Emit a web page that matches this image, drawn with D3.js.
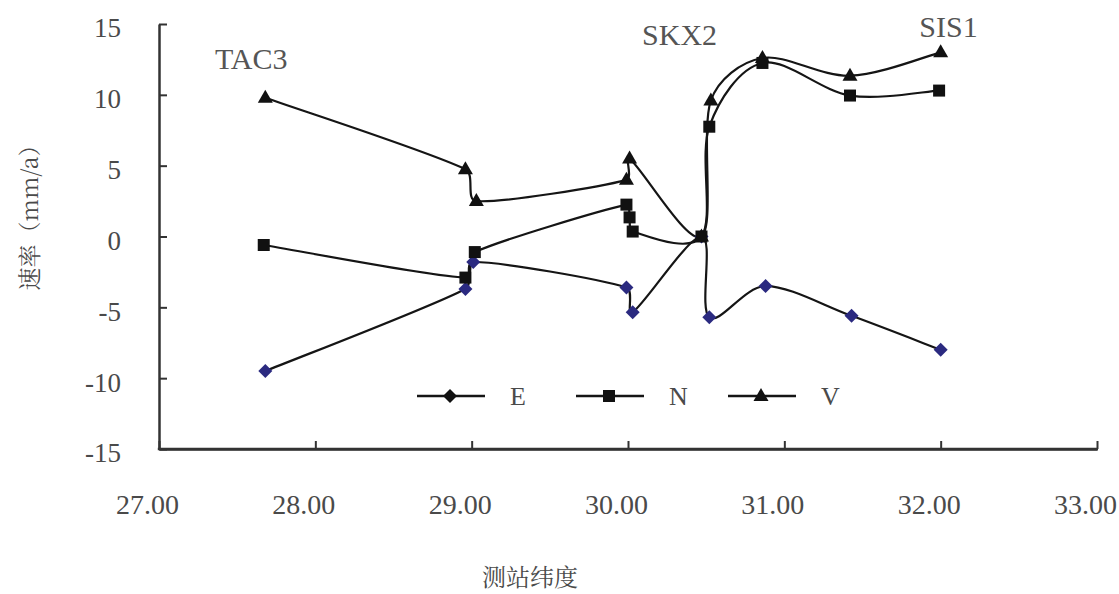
<!DOCTYPE html>
<html><head><meta charset="utf-8">
<script src="https://cdn.jsdelivr.net/npm/d3@7"></script>
<style>body{margin:0;background:#fff}</style>
</head><body>
<svg id="chart" width="1119" height="594"></svg>
<script>
// ---- data (latitude in degrees, rate in mm/a) ----
const latE = [27.68, 28.96, 29.01, 29.99, 30.03, 30.47, 30.52, 30.88, 31.43, 32.00];
const valE = [-9.5, -3.7, -1.8, -3.6, -5.35, 0.0, -5.7, -3.5, -5.6, -8.0];
const latN = [27.67, 28.96, 29.02, 29.99, 30.01, 30.03, 30.47, 30.52, 30.86, 31.42, 31.99];
const valN = [-0.6, -2.9, -1.1, 2.25, 1.35, 0.35, 0.0, 7.75, 12.25, 9.95, 10.3];
const latV = [27.68, 28.96, 29.03, 29.99, 30.01, 30.47, 30.53, 30.86, 31.42, 32.00];
const valV = [9.8, 4.75, 2.5, 4.0, 5.5, 0.0, 9.6, 12.6, 11.35, 13.0];
const xTicks = [27, 28, 29, 30, 31, 32, 33];
const yTicks = [-15, -10, -5, 0, 5, 10, 15];
const stationNames = ["TAC3", "SKX2", "SIS1"];
const stationLat = [27.59, 30.33, 32.05];
const stationVal = [11.8, 13.55, 14.05];
const seriesNames = ["E", "N", "V"];
const xTitle = "测站纬度";
const yTitle = "速率（mm/a）";

const svg = d3.select("#chart");
const x = d3.scaleLinear().domain([27, 33]).range([159, 1097]);
const y = d3.scaleLinear().domain([-15, 15]).range([449, 24]);
const txt = "#4a4a4a";
const SERIF = "Liberation Serif";
const CJK = "Noto Serif CJK SC";

// axes
const gx = svg.append("g").attr("transform", "translate(0,449)")
  .call(d3.axisBottom(x).tickValues(xTicks).tickFormat(d => d.toFixed(2))
    .tickSizeInner(-8).tickSizeOuter(0).tickPadding(45));
const gy = svg.append("g").attr("transform", "translate(159,0)")
  .call(d3.axisLeft(y).tickValues(yTicks).tickFormat(d => String(d)).tickSizeInner(-8).tickSizeOuter(0).tickPadding(38));
[gx, gy].forEach(g => {
  g.attr("font-family", SERIF).attr("font-size", 27);
  g.select(".domain").attr("stroke", "#333").attr("stroke-width", 2.5);
  g.selectAll(".tick line").attr("stroke", "#333").attr("stroke-width", 2);
  g.selectAll(".tick text").attr("fill", txt);
});
gx.attr("font-size", 28);
gx.selectAll(".tick text").attr("dx", -12);
gy.selectAll(".tick text").attr("dy", "0.48em");
svg.append("line").attr("x1", 157.8).attr("x2", 1098).attr("y1", 449).attr("y2", 449)
  .attr("stroke", "#333").attr("stroke-width", 2.5);

// axis titles
svg.append("text").attr("x", 530).attr("y", 586).attr("text-anchor", "middle")
  .attr("fill", txt).attr("font-family", CJK).attr("font-size", 24).text(xTitle);
svg.append("text").attr("transform", "translate(38,212) rotate(-90)").attr("text-anchor", "middle")
  .attr("fill", txt).attr("font-family", CJK).attr("font-size", 23).text(yTitle);

// smooth curve (segment-limited bezier, similar to spreadsheet smoothing)
function SmoothCurve(context) { this._context = context; }
SmoothCurve.prototype = {
  areaStart() {}, areaEnd() {},
  lineStart() { this._pts = []; },
  point(px, py) { this._pts.push([+px, +py]); },
  lineEnd() {
    const p = this._pts, n = p.length, c = this._context;
    if (!n) return;
    c.moveTo(p[0][0], p[0][1]);
    const tan = p.map((pt, i) => {
      const a = p[Math.max(0, i - 1)], b = p[Math.min(n - 1, i + 1)];
      const dx = b[0] - a[0], dy = b[1] - a[1], L = Math.hypot(dx, dy) || 1;
      return [dx / L, dy / L, L];
    });
    for (let i = 0; i < n - 1; i++) {
      const a = p[i], b = p[i + 1];
      const seg = Math.hypot(b[0] - a[0], b[1] - a[1]);
      const la = Math.min(tan[i][2] / 6, seg / 3), lb = Math.min(tan[i + 1][2] / 6, seg / 3);
      c.bezierCurveTo(a[0] + tan[i][0] * la, a[1] + tan[i][1] * la,
                      b[0] - tan[i + 1][0] * lb, b[1] - tan[i + 1][1] * lb, b[0], b[1]);
    }
  }
};
const smooth = ctx => new SmoothCurve(ctx);

const series = [
  {name: "E", lat: latE, val: valE, mark: "diamond", fill: "#2b2a80"},
  {name: "N", lat: latN, val: valN, mark: "square", fill: "#111"},
  {name: "V", lat: latV, val: valV, mark: "triangle", fill: "#111"}
];
const line = d3.line().x(d => x(d[0])).y(d => y(d[1])).curve(smooth);
function drawMarker(g, type, cx, cy, fill) {
  if (type === "diamond") {
    g.append("path").attr("d", "M0,-7L7,0L0,7L-7,0Z").attr("transform", `translate(${cx},${cy})`).attr("fill", fill);
  } else if (type === "square") {
    g.append("rect").attr("x", cx - 6).attr("y", cy - 6).attr("width", 12).attr("height", 12).attr("fill", fill);
  } else {
    g.append("path").attr("d", "M0,-8L7.5,5L-7.5,5Z").attr("transform", `translate(${cx},${cy})`).attr("fill", fill);
  }
}
series.forEach(s => {
  const pts = s.lat.map((v, i) => [v, s.val[i]]);
  svg.append("path").attr("d", line(pts)).attr("fill", "none").attr("stroke", "#151515").attr("stroke-width", 2.2);
});
series.forEach(s => {
  const g = svg.append("g");
  s.lat.forEach((v, i) => drawMarker(g, s.mark, x(v), y(s.val[i]), s.fill));
});

// station labels
stationNames.forEach((n, i) => {
  svg.append("text").attr("x", x(stationLat[i])).attr("y", y(stationVal[i])).attr("text-anchor", "middle")
    .attr("fill", "#555").attr("font-family", SERIF).attr("font-size", 30).text(n);
});

// legend
const legX = [417, 576, 728];
seriesNames.forEach((n, i) => {
  const g = svg.append("g");
  g.append("line").attr("x1", legX[i]).attr("x2", legX[i] + 68).attr("y1", 396).attr("y2", 396)
    .attr("stroke", "#151515").attr("stroke-width", 2.5);
  drawMarker(g, series[i].mark, legX[i] + 33, 396, "#111");
  g.append("text").attr("x", legX[i] + 93).attr("y", 405).attr("text-anchor", "start")
    .attr("fill", txt).attr("font-family", SERIF).attr("font-size", 26).text(n);
});
</script>
</body></html>
